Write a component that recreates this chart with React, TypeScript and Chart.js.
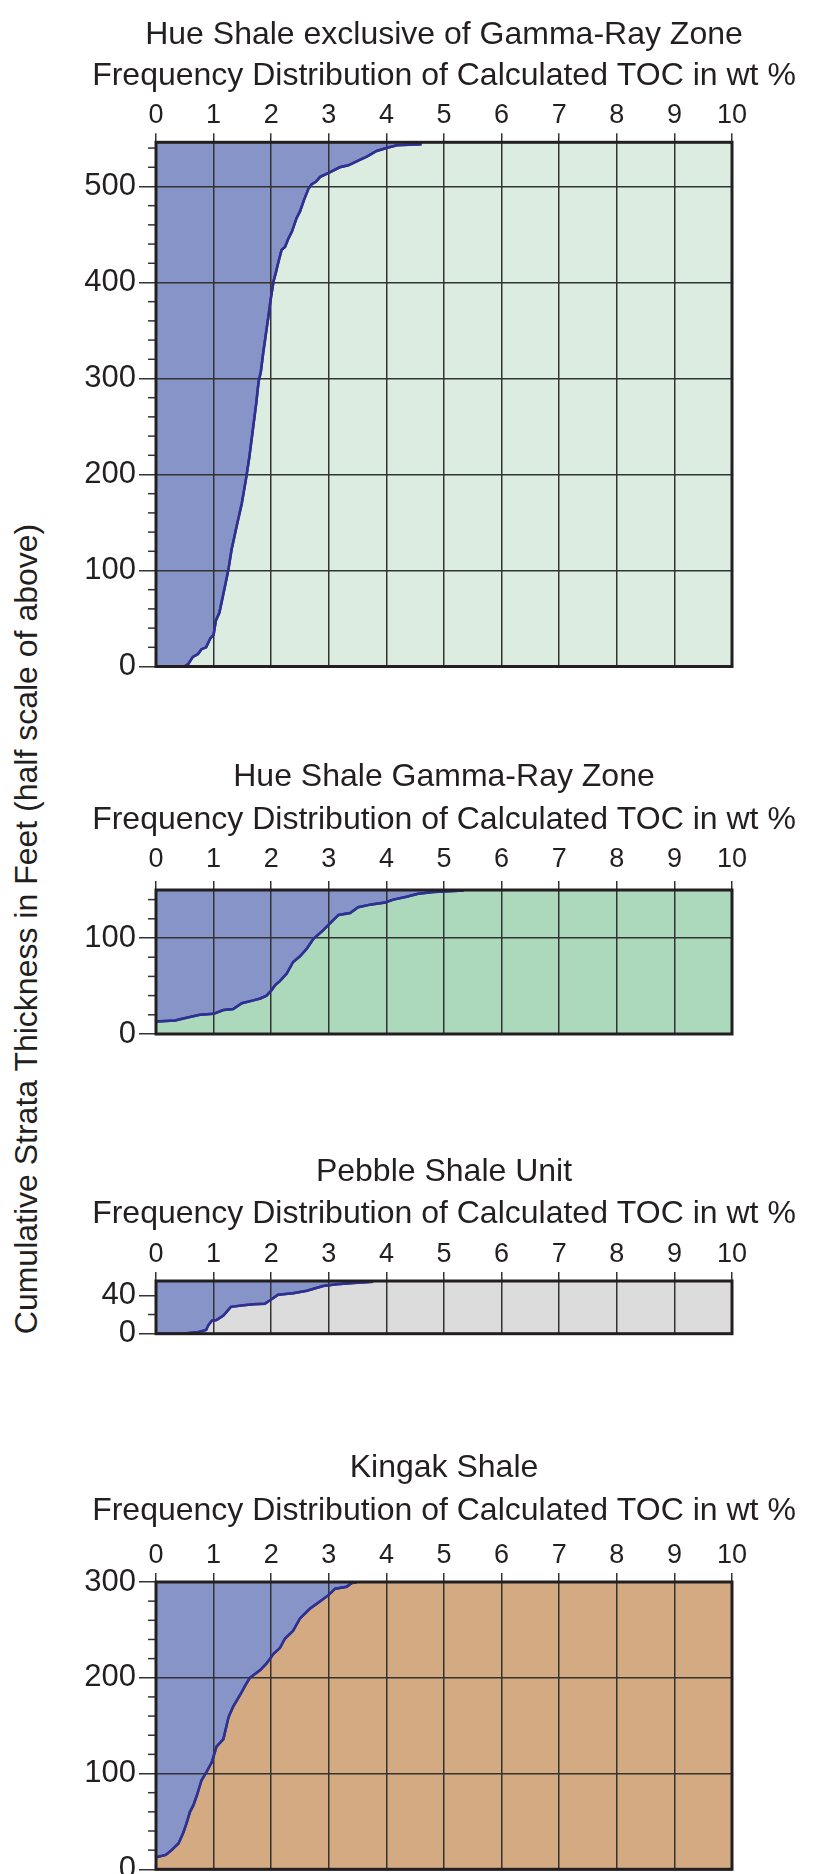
import React, { useEffect, useRef } from 'react';
import { Chart, registerables } from 'chart.js';

Chart.register(...registerables);

// ---------- text ----------
const yAxisTitle = 'Cumulative Strata Thickness in Feet (half scale of above)';
const subtitleText = 'Frequency Distribution of Calculated TOC in wt %';
const panelTitles = [
  'Hue Shale exclusive of Gamma-Ray Zone',
  'Hue Shale Gamma-Ray Zone',
  'Pebble Shale Unit',
  'Kingak Shale',
];

// ---------- x axis (TOC wt %) ----------
const tocTickValues = [0, 1, 2, 3, 4, 5, 6, 7, 8, 9, 10];
const tocTickLabels = ['0', '1', '2', '3', '4', '5', '6', '7', '8', '9', '10'];

// ---------- series: TOC (x) vs cumulative thickness in feet (y) ----------
const hueExclToc = [0, 0.49, 0.56, 0.64, 0.73, 0.79, 0.87, 0.94, 1.0, 1.04, 1.1, 1.16, 1.22, 1.26, 1.31, 1.4, 1.49, 1.57, 1.62, 1.68, 1.74, 1.78, 1.82, 1.86, 1.9, 1.95, 1.99, 2.04, 2.08, 2.12, 2.18, 2.24, 2.3, 2.36, 2.44, 2.5, 2.57, 2.65, 2.7, 2.78, 2.85, 2.99, 3.19, 3.34, 3.51, 3.66, 3.83, 4.0, 4.18, 4.61];
const hueExclFeet = [0, 0, 2.6, 10, 13, 18, 20, 29, 33, 48, 56, 73, 90, 102, 121, 146, 170, 198, 218, 246, 274, 296, 307, 326, 343, 364, 382, 401, 410, 420, 434, 437, 446, 453, 467, 474, 486, 498, 502, 505, 510, 514, 520, 522, 527, 531, 537, 540, 543, 544];

const gammaToc = [0, 0.33, 0.53, 0.76, 1.0, 1.17, 1.34, 1.49, 1.69, 1.81, 1.92, 2.01, 2.07, 2.15, 2.27, 2.38, 2.5, 2.62, 2.73, 2.9, 3.05, 3.17, 3.37, 3.51, 3.74, 3.98, 4.12, 4.35, 4.55, 4.82, 5.34];
const gammaFeet = [13, 14, 17, 20, 21, 25, 26, 32, 35, 37, 40, 46, 51, 55, 63, 75, 81, 89, 99, 108, 117, 124, 126, 132, 135, 137, 140, 143, 146, 148, 149.5];

const pebbleToc = [0, 0.33, 0.53, 0.71, 0.87, 0.91, 0.97, 1.05, 1.17, 1.3, 1.52, 1.69, 1.89, 1.98, 2.12, 2.38, 2.62, 2.9, 3.14, 3.43, 3.77];
const pebbleFeet = [0, 0, 0.4, 1.4, 3.9, 9, 13.6, 14.3, 19, 28, 29.6, 30.7, 31.3, 35, 40.7, 42.2, 44.9, 49.8, 51.6, 52.9, 54.3];

const kingakToc = [0, 0.17, 0.27, 0.39, 0.47, 0.53, 0.59, 0.65, 0.72, 0.79, 0.88, 0.97, 1.05, 1.17, 1.26, 1.34, 1.46, 1.55, 1.63, 1.81, 1.92, 2.04, 2.15, 2.24, 2.38, 2.5, 2.67, 2.85, 2.99, 3.11, 3.31, 3.4, 3.48];
const kingakFeet = [12.5, 15, 20, 27, 37.5, 48, 60, 67, 79, 93, 102, 112, 128, 136, 159, 170, 182, 192, 200, 208, 215, 225, 231, 241, 249, 262, 272, 280, 286, 293, 295, 299, 299.5];

// ---------- y axis ranges ----------
const yMaxes = [546, 150, 55, 300];
const yMajorSteps = [100, 100, 40, 100];
const yMinorStep = 20;

// ---------- style ----------
const FONT = "'Liberation Sans', Arial, Helvetica, sans-serif";
const TEXT = '#231f20';
const GRID = '#333333';
const FILL = '#8694c8';
const LINE = '#2e3192';
const TITLE_SIZE = 32;
const XTICK_SIZE = 27;
const YTICK_SIZE = 31;
const X_TICK_LEN = 9;
const Y_TICK_LEN = 17;
const MINOR_LEN = 8;
const CANVAS_LEFT = 72;
const CANVAS_W = 744;
const SIDE_W = 84;

type Spec = {
  title: string;
  toc: number[];
  feet: number[];
  yMax: number;
  major: number;
  grid: boolean;
  bg: string;
  top: number;
  height: number;
  t1: number;
  t2: number;
  lab: number;
  areaTop: number;
  areaBottom: number;
};

const panels: Spec[] = [
  { title: panelTitles[0], toc: hueExclToc, feet: hueExclFeet, yMax: yMaxes[0], major: yMajorSteps[0], grid: true, bg: '#dcece1',
    top: 0, height: 700, t1: 35.5, t2: 76, lab: 115.5, areaTop: 142.3, areaBottom: 666.5 },
  { title: panelTitles[1], toc: gammaToc, feet: gammaFeet, yMax: yMaxes[1], major: yMajorSteps[1], grid: true, bg: '#acd8bb',
    top: 740, height: 330, t1: 777, t2: 820, lab: 860, areaTop: 890, areaBottom: 1034 },
  { title: panelTitles[2], toc: pebbleToc, feet: pebbleFeet, yMax: yMaxes[2], major: yMajorSteps[2], grid: false, bg: '#dcdcdc',
    top: 1130, height: 240, t1: 1171.7, t2: 1214.5, lab: 1254.7, areaTop: 1281, areaBottom: 1333.7 },
  { title: panelTitles[3], toc: kingakToc, feet: kingakFeet, yMax: yMaxes[3], major: yMajorSteps[3], grid: true, bg: '#d4aa82',
    top: 1420, height: 454, t1: 1468.3, t2: 1510.8, lab: 1555.8, areaTop: 1582, areaBottom: 1869.3 },
];

const decoPlugin = {
  id: 'panelDeco',
  beforeDraw(chart: any, _args: any, opts: any) {
    const { ctx, chartArea: a } = chart;
    ctx.save();
    ctx.fillStyle = opts.bg;
    ctx.fillRect(a.left, a.top, a.right - a.left, a.bottom - a.top);
    ctx.restore();
  },
  afterDraw(chart: any, _args: any, opts: any) {
    const { ctx, chartArea: a } = chart;
    // curve on top of the grid
    const meta = chart.getDatasetMeta(0);
    if (meta && meta.dataset) {
      ctx.save();
      ctx.beginPath();
      ctx.rect(a.left, a.top - 2, a.right - a.left, a.bottom - a.top + 2);
      ctx.clip();
      meta.dataset.draw(ctx, a);
      ctx.restore();
    }
    // minor y ticks
    const ys = chart.scales.y;
    ctx.save();
    ctx.strokeStyle = GRID;
    ctx.lineWidth = 1.5;
    for (const t of ys.ticks) {
      if (t.value % opts.major === 0) continue;
      const py = ys.getPixelForValue(t.value);
      ctx.beginPath();
      ctx.moveTo(a.left - MINOR_LEN, py);
      ctx.lineTo(a.left, py);
      ctx.stroke();
    }
    ctx.restore();
    // frame
    ctx.save();
    ctx.strokeStyle = TEXT;
    ctx.lineWidth = 3;
    ctx.strokeRect(a.left, a.top, a.right - a.left, a.bottom - a.top);
    ctx.restore();
  },
};

function Panel({ spec }: { spec: Spec }) {
  const ref = useRef<HTMLCanvasElement | null>(null);
  useEffect(() => {
    if (!ref.current) return;
    const p = spec;
    const lh = TITLE_SIZE * 1.2;
    const tickLh = XTICK_SIZE * 1.2;
    const titlePadTop = p.t1 - p.top - lh / 2;
    const subPadTop = p.t2 - p.t1 - lh;
    const xHeight = p.areaTop - (p.t2 + lh / 2);
    const xPad = p.areaTop - p.lab - X_TICK_LEN - tickLh / 2;
    const padBottom = p.top + p.height - p.areaBottom;
    const points = p.toc.map((x, i) => ({ x, y: p.feet[i] }));
    const yTicks: number[] = [];
    for (let v = 0; v <= p.yMax; v += yMinorStep) yTicks.push(v);
    const isMajor = (v: number) => v % p.major === 0;

    const chart = new Chart(ref.current, {
      type: 'line',
      data: {
        datasets: [
          {
            data: points,
            borderColor: LINE,
            borderWidth: 2.5,
            backgroundColor: FILL,
            fill: 'end',
            pointRadius: 0,
            tension: 0,
          },
        ],
      },
      plugins: [decoPlugin],
      options: {
        animation: false,
        responsive: false,
        devicePixelRatio: 1,
        events: [],
        layout: { padding: { top: 0, left: 0, right: 0, bottom: padBottom } },
        plugins: {
          legend: { display: false },
          tooltip: { enabled: false },
          title: {
            display: true,
            text: p.title,
            color: TEXT,
            font: { family: FONT, size: TITLE_SIZE, weight: 'normal', lineHeight: 1.2 },
            padding: { top: titlePadTop, bottom: 0 },
          },
          subtitle: {
            display: true,
            text: subtitleText,
            color: TEXT,
            font: { family: FONT, size: TITLE_SIZE, weight: 'normal', lineHeight: 1.2 },
            padding: { top: subPadTop, bottom: 0 },
          },
          panelDeco: { bg: p.bg, major: p.major },
        } as any,
        scales: {
          x: {
            type: 'linear',
            position: 'top',
            min: 0,
            max: 10,
            afterBuildTicks: (s: any) => {
              s.ticks = tocTickValues.map((v) => ({ value: v }));
            },
            ticks: {
              color: TEXT,
              font: { family: FONT, size: XTICK_SIZE, lineHeight: 1.2 },
              padding: xPad,
              maxRotation: 0,
              autoSkip: false,
              callback: (_v: any, i: number) => tocTickLabels[i],
            },
            grid: { color: GRID, lineWidth: 1.5, tickLength: X_TICK_LEN, tickColor: GRID, z: 1 },
            border: { display: false },
            afterFit: (s: any) => {
              s.height = xHeight;
              s.paddingLeft = 0;
              s.paddingRight = 0;
            },
          },
          y: {
            type: 'linear',
            position: 'left',
            min: 0,
            max: p.yMax,
            afterBuildTicks: (s: any) => {
              s.ticks = yTicks.map((v) => ({ value: v }));
            },
            ticks: {
              color: TEXT,
              font: { family: FONT, size: YTICK_SIZE, lineHeight: 1.2 },
              padding: 3,
              autoSkip: false,
              callback: (v: any) => (isMajor(Number(v)) ? String(v) : ''),
            },
            grid: {
              color: (c: any) => (c.tick && isMajor(c.tick.value) && p.grid ? GRID : 'rgba(0,0,0,0)'),
              tickColor: (c: any) => (c.tick && isMajor(c.tick.value) ? GRID : 'rgba(0,0,0,0)'),
              lineWidth: 1.5,
              tickLength: Y_TICK_LEN,
              z: 1,
            },
            border: { display: false },
            afterFit: (s: any) => {
              s.width = SIDE_W;
              s.paddingTop = 0;
              s.paddingBottom = 0;
            },
          },
          yRight: {
            type: 'linear',
            position: 'right',
            min: 0,
            max: p.yMax,
            grid: { display: false },
            ticks: { display: false },
            border: { display: false },
            afterFit: (s: any) => {
              s.width = SIDE_W;
              s.paddingTop = 0;
              s.paddingBottom = 0;
            },
          },
        } as any,
      },
    } as any);
    return () => chart.destroy();
  }, [spec]);

  return (
    <canvas
      ref={ref}
      width={CANVAS_W}
      height={spec.height}
      style={{ position: 'absolute', left: CANVAS_LEFT, top: spec.top, width: CANVAS_W, height: spec.height }}
    />
  );
}

export default function App() {
  return (
    <div
      style={{
        position: 'absolute',
        left: 0,
        top: 0,
        width: 816,
        height: 1874,
        overflow: 'hidden',
        background: '#ffffff',
      }}
    >
      <div
        style={{
          position: 'absolute',
          left: 26,
          top: 929,
          transform: 'translate(-50%, -50%) rotate(-90deg)',
          whiteSpace: 'nowrap',
          fontFamily: FONT,
          fontSize: 32,
          lineHeight: 1,
          color: TEXT,
        }}
      >
        {yAxisTitle}
      </div>
      {panels.map((p) => (
        <Panel key={p.title} spec={p} />
      ))}
    </div>
  );
}
